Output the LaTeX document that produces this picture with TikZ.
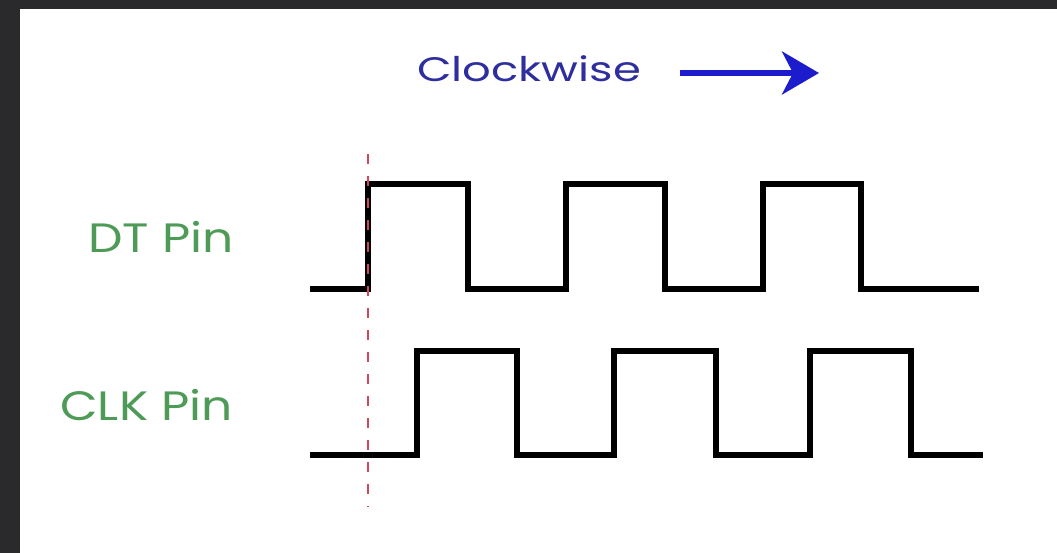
\documentclass[tikz,border=0pt]{standalone}
\usepackage{fontspec}
\setmainfont{Poppins}
\usetikzlibrary{arrows.meta}
\definecolor{frame}{HTML}{2A2A2C}
\definecolor{pinGreen}{HTML}{4E9A57}
\definecolor{dirText}{HTML}{2E2E9E}
\definecolor{dirArrow}{HTML}{1C1CCC}
\definecolor{marker}{HTML}{D0485E}
\tikzset{
  wave/.style={line width=6pt, line join=miter, black},
  pinlabel/.style={text=pinGreen, font=\fontsize{41}{41}\selectfont, anchor=base east, inner sep=0pt},
  dirlabel/.style={text=dirText, font=\fontsize{34}{34}\selectfont, anchor=base west, inner sep=0pt},
  dirarrow/.style={dirArrow, line width=5.5pt, -{Stealth[length=37pt, width=43pt, inset=11pt]}},
  edgemark/.style={marker, line width=2.5pt, dash pattern=on 10pt off 12pt}
}
\begin{document}
\begin{tikzpicture}[x=1pt, y=-1pt]
  % canvas and dark frame strips
  \fill[frame] (0,0) rectangle (1057,553);
  \fill[white] (20,9) rectangle (1057,553);
  \useasboundingbox (0,0) rectangle (1057,553);

  % direction label and arrow
  \node[dirlabel] (dir) at (417,82) {\scalebox{1.32}[1]{Clockwise}};
  \coordinate (arrS) at (680,73);
  \coordinate (arrE) at (819,73);
  \draw[dirarrow] (arrS) -- (arrE);

  % pin labels
  \node[pinlabel] (dt) at (234,253) {\scalebox{1.19}[1]{DT Pin}};
  \node[pinlabel] (clk) at (233,420) {\scalebox{1.19}[1]{CLK Pin}};

  % DT waveform
  \draw[wave] (310,289) -- (368,289) -- (368,184) -- (468,184) -- (468,289)
    -- (566,289) -- (566,184) -- (665,184) -- (665,289)
    -- (763,289) -- (763,184) -- (861,184) -- (861,289) -- (979,289);

  % CLK waveform
  \draw[wave] (310,455) -- (417,455) -- (417,351) -- (517,351) -- (517,455)
    -- (614,455) -- (614,351) -- (716,351) -- (716,455)
    -- (810,455) -- (810,351) -- (911,351) -- (911,455) -- (983,455);

  % reference line at the first DT edge
  \coordinate (mTop) at (368,154);
  \coordinate (mBot) at (368,507);
  \draw[edgemark] (mTop) -- (mBot);
\end{tikzpicture}
\end{document}
